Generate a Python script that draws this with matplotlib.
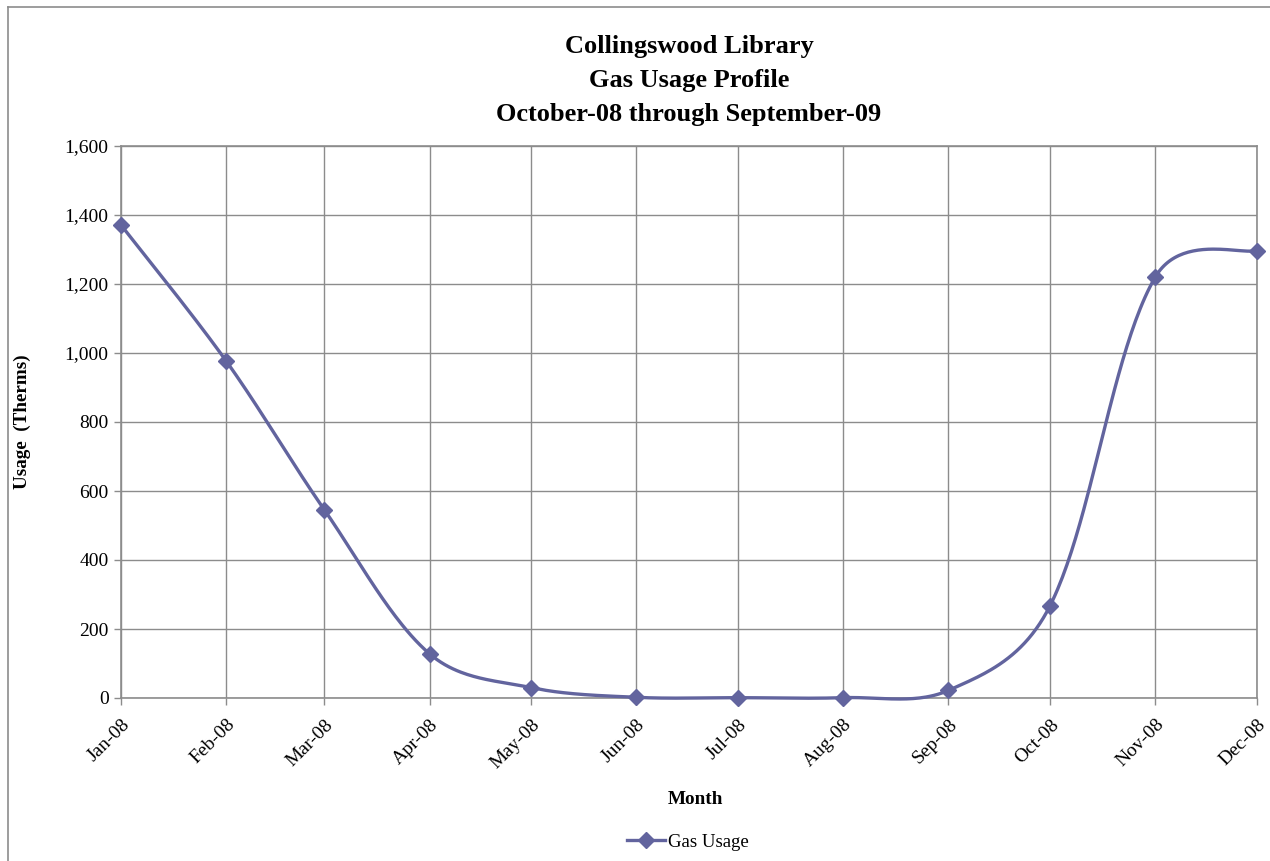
import matplotlib
matplotlib.use("Agg")
import matplotlib.pyplot as plt
import matplotlib.dates as mdates
from matplotlib.lines import Line2D
import numpy as np
import datetime as dt

months = ["2008-01-01", "2008-02-01", "2008-03-01", "2008-04-01", "2008-05-01", "2008-06-01",
          "2008-07-01", "2008-08-01", "2008-09-01", "2008-10-01", "2008-11-01", "2008-12-01"]
usage = [1371, 977, 545, 128, 30, 2, 1, 1, 22, 268, 1220, 1297]
yticks = [0, 200, 400, 600, 800, 1000, 1200, 1400, 1600]
title_lines = ["Collingswood Library", "Gas Usage Profile", "October-08 through September-09"]

plt.rcParams['font.family'] = ['Liberation Serif', 'DejaVu Serif']
color = "#62649E"
gridc = "#8C8C8C"

dates = [dt.datetime.strptime(m, "%Y-%m-%d") for m in months]
x = mdates.date2num(dates)
y = np.array(usage, dtype=float)

fig = plt.figure(figsize=(12.7, 8.61), dpi=100)
ax = fig.add_axes([121 / 1270, 1 - 698 / 861, (1257 - 121) / 1270, (698 - 146) / 861])
ax.set_xlim(x[0], x[-1])
ax.set_ylim(0, 1600)


# Excel-like smoothed line: Bezier through the points, tangents partly scaled by segment lengths
def smooth(xs, ys, n=50):
    P = ax.transData.transform(np.column_stack([xs, ys]))
    Pe = np.vstack([P[0], P, P[-1]])
    out = []
    for i in range(len(P) - 1):
        p0, p1, p2, p3 = Pe[i], Pe[i + 1], Pe[i + 2], Pe[i + 3]
        d01 = np.hypot(*(p1 - p0))
        d12 = np.hypot(*(p2 - p1))
        d23 = np.hypot(*(p3 - p2))
        f1 = d12 / (d01 + d12) / 3.0 if d01 > 0 else 1 / 6
        f2 = d12 / (d12 + d23) / 3.0 if d23 > 0 else 1 / 6
        f1 = 0.5 * f1 + 0.5 / 6
        f2 = 0.5 * f2 + 0.5 / 6
        c1 = p1 + (p2 - p0) * f1
        c2 = p2 - (p3 - p1) * f2
        t = np.linspace(0, 1, n)[:, None]
        seg = (1 - t) ** 3 * p1 + 3 * (1 - t) ** 2 * t * c1 + 3 * (1 - t) * t ** 2 * c2 + t ** 3 * p2
        out.append(seg if i == 0 else seg[1:])
    s = ax.transData.inverted().transform(np.vstack(out))
    return s[:, 0], s[:, 1]


sx, sy = smooth(x, y)
ax.plot(sx, sy, color=color, lw=2.4, zorder=3, solid_capstyle="round", clip_on=False)
ax.plot(x, y, ls="none", marker="D", ms=8.5, color=color, zorder=4, clip_on=False)

ax.set_yticks(yticks)
ax.set_yticklabels([f"{v:,}" for v in yticks], fontsize=14)
ax.set_xticks(x)
ax.set_xticklabels([d.strftime("%b-%y") for d in dates], rotation=45, ha="right",
                   rotation_mode="anchor", fontsize=14)
ax.grid(True, color=gridc, lw=1.0)
ax.set_axisbelow(True)
for s in ax.spines.values():
    s.set_color(gridc)
    s.set_linewidth(1.2)
ax.tick_params(axis="both", color=gridc, length=5, width=1.0, direction="out", pad=4)
ax.tick_params(axis="x", pad=8)

for ypix, line in zip([47, 80, 114], title_lines):
    fig.text(689 / 1270, 1 - ypix / 861, line, ha="center", va="center", fontsize=19,
             fontweight="bold")
fig.text(22 / 1270, 1 - 422 / 861, "Usage  (Therms)", rotation=90, ha="center", va="center",
         fontsize=13.8, fontweight="bold")
fig.text(695 / 1270, 1 - 799 / 861, "Month", ha="center", va="center", fontsize=13.8,
         fontweight="bold")

handle = Line2D([], [], color=color, lw=2.4, marker="D", ms=8.5)
fig.legend([handle], ["Gas Usage"], loc="center", bbox_to_anchor=(688 / 1270, 1 - 842 / 861),
           frameon=False, fontsize=13.5, handlelength=2.0, handletextpad=0.2)

# outer chart border (left and top)
fig.add_artist(Line2D([8 / 1270, 8 / 1270], [0, 1 - 7 / 861], color="#8C8C8C", lw=1.2,
                      transform=fig.transFigure))
fig.add_artist(Line2D([8 / 1270, 1], [1 - 7 / 861, 1 - 7 / 861], color="#8C8C8C", lw=1.2,
                      transform=fig.transFigure))

fig.savefig("out.png", dpi=100, facecolor="white")
